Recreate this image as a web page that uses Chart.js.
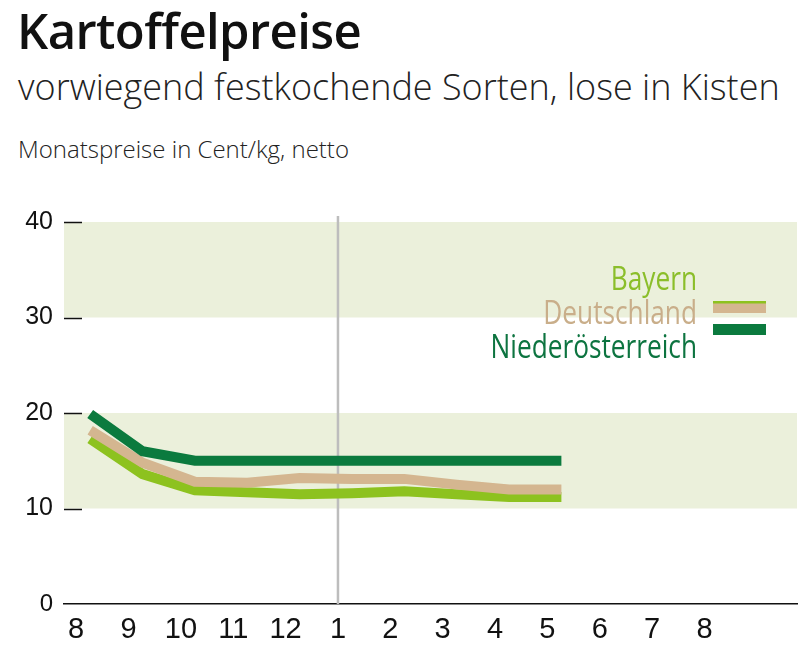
<!DOCTYPE html>
<html lang="de">
<head>
  <meta charset="UTF-8" />
  <title>Kartoffelpreise</title>
  <script src="https://cdn.jsdelivr.net/npm/chart.js"></script>
  <style>
    body { margin: 0; width: 812px; height: 658px; background: #fff; position: relative; overflow: hidden; }
    .txt { position: absolute; left: 18px; font-family: "Open Sans", sans-serif; color: #111; white-space: nowrap; line-height: 1; }
    #titel { top: 6px; font-size: 49px; font-weight: 600; letter-spacing: -0.6px; left: 17px; }
    #unter { top: 69px; font-size: 36px; font-weight: 300; color: #222; }
    #einheit { top: 137px; font-size: 24px; font-weight: 300; color: #222; }
    #wrap { position: absolute; left: 0; top: 0; width: 812px; height: 658px; }
  </style>
</head>
<body>
  <div class="txt" id="titel">Kartoffelpreise</div>
  <div class="txt" id="unter">vorwiegend festkochende Sorten, lose in Kisten</div>
  <div class="txt" id="einheit">Monatspreise in Cent/kg, netto</div>
  <div id="wrap"><canvas id="grafik" width="812" height="658"></canvas></div>

  <script>
    // Monate (August bis August, letzte Spalte leer)
    const monate = ['8', '9', '10', '11', '12', '1', '2', '3', '4', '5', '6', '7', '8', ''];
    const bayern = [17.3, 13.6, 11.9, 11.7, 11.5, 11.6, 11.8, 11.5, 11.2, 11.2];
    const deutschland = [18.2, 14.8, 12.8, 12.7, 13.2, 13.1, 13.1, 12.5, 12.0, 12.0];
    const niederoesterreich = [19.9, 16.0, 15.0, 15.0, 15.0, 15.0, 15.0, 15.0, 15.0, 15.0];
    const yTicks = [0, 10, 20, 30, 40];
    const baender = [[10, 20], [30, 40]];
    const jahreswechsel = '1';

    const labelShift = -14;

    // Hintergrundbaender, Striche an der y-Achse, Linie beim Jahreswechsel
    const hintergrund = {
      id: 'hintergrund',
      beforeDatasetsDraw(chart) {
        const { ctx, chartArea: a, scales: { x, y } } = chart;
        ctx.save();
        ctx.fillStyle = '#ebf0db';
        baender.forEach(([von, bis]) => {
          const y1 = y.getPixelForValue(bis), y2 = y.getPixelForValue(von);
          ctx.fillRect(a.left, y1, a.right - a.left, y2 - y1);
        });
        ctx.strokeStyle = '#111';
        ctx.lineWidth = 1.5;
        yTicks.filter(v => v > 0).forEach(v => {
          const py = Math.round(y.getPixelForValue(v)) + 0.5;
          ctx.beginPath();
          ctx.moveTo(a.left, py);
          ctx.lineTo(a.left + 18, py);
          ctx.stroke();
        });
        const px = x.getPixelForValue(monate.indexOf(jahreswechsel)) + labelShift;
        ctx.strokeStyle = '#bdbdbd';
        ctx.lineWidth = 2.5;
        ctx.beginPath();
        ctx.moveTo(px, a.top - 6);
        ctx.lineTo(px, a.bottom);
        ctx.stroke();
        ctx.restore();
      }
    };

    // Legende rechts oben (schmal gesetzt)
    const legende = {
      id: 'legende',
      afterDatasetsDraw(chart) {
        const { ctx } = chart;
        const ds = chart.data.datasets;
        ctx.save();
        ctx.font = '32px "Open Sans", sans-serif';
        ctx.textAlign = 'right';
        ctx.textBaseline = 'alphabetic';
        const reihen = [ds[2], ds[1], ds[0]];
        reihen.forEach((d, i) => {
          ctx.save();
          ctx.translate(697, 290 + i * 34);
          ctx.scale(0.82, 1);
          ctx.fillStyle = d.textColor;
          ctx.fillText(d.label, 0, 0);
          ctx.restore();
        });
        // Farbfelder
        ctx.fillStyle = ds[1].borderColor;
        ctx.fillRect(713, 302, 53, 11);
        ctx.fillStyle = ds[2].borderColor;
        ctx.fillRect(713, 301, 53, 2.5);
        ctx.fillStyle = ds[0].borderColor;
        ctx.fillRect(713, 324, 53, 11);
        ctx.restore();
      }
    };

    const linie = (label, data, farbe, text) => ({
      label, data, borderColor: farbe, textColor: text,
      borderWidth: 10, pointRadius: 0, tension: 0, fill: false,
      borderJoinStyle: 'miter', borderCapStyle: 'butt'
    });

    new Chart(document.getElementById('grafik'), {
      type: 'line',
      data: {
        labels: monate,
        datasets: [
          linie('Niederösterreich', niederoesterreich, '#0b7a3e', '#0d7440'),
          linie('Deutschland', deutschland, '#d4b690', '#c9ae8a'),
          linie('Bayern', bayern, '#8dc21f', '#8bbe2a')
        ]
      },
      options: {
        responsive: false,
        animation: false,
        layout: { padding: { left: 0, right: 15, top: 222, bottom: 0 } },
        plugins: { legend: { display: false }, tooltip: { enabled: false } },
        scales: {
          x: {
            type: 'category',
            offset: true,
            grid: { display: false, drawTicks: false },
            border: { display: true, color: '#111', width: 1.5 },
            ticks: {
              color: '#111',
              padding: 9,
              labelOffset: labelShift,
              maxRotation: 0,
              autoSkip: false,
              font: { family: '"Liberation Sans", sans-serif', size: 29 }
            },
            afterFit(s) { s.height = 54; }
          },
          y: {
            min: 0,
            max: 40,
            grid: { display: false, drawTicks: false },
            border: { display: false },
            afterBuildTicks(s) { s.ticks = yTicks.map(v => ({ value: v })); },
            ticks: {
              color: '#111',
              padding: 11,
              font: (c) => ({ family: '"Liberation Sans", sans-serif', size: c.tick && c.tick.value === 0 ? 24 : 25 })
            },
            afterFit(s) { s.width = 64; }
          }
        }
      },
      plugins: [hintergrund, legende]
    });
  </script>
</body>
</html>
